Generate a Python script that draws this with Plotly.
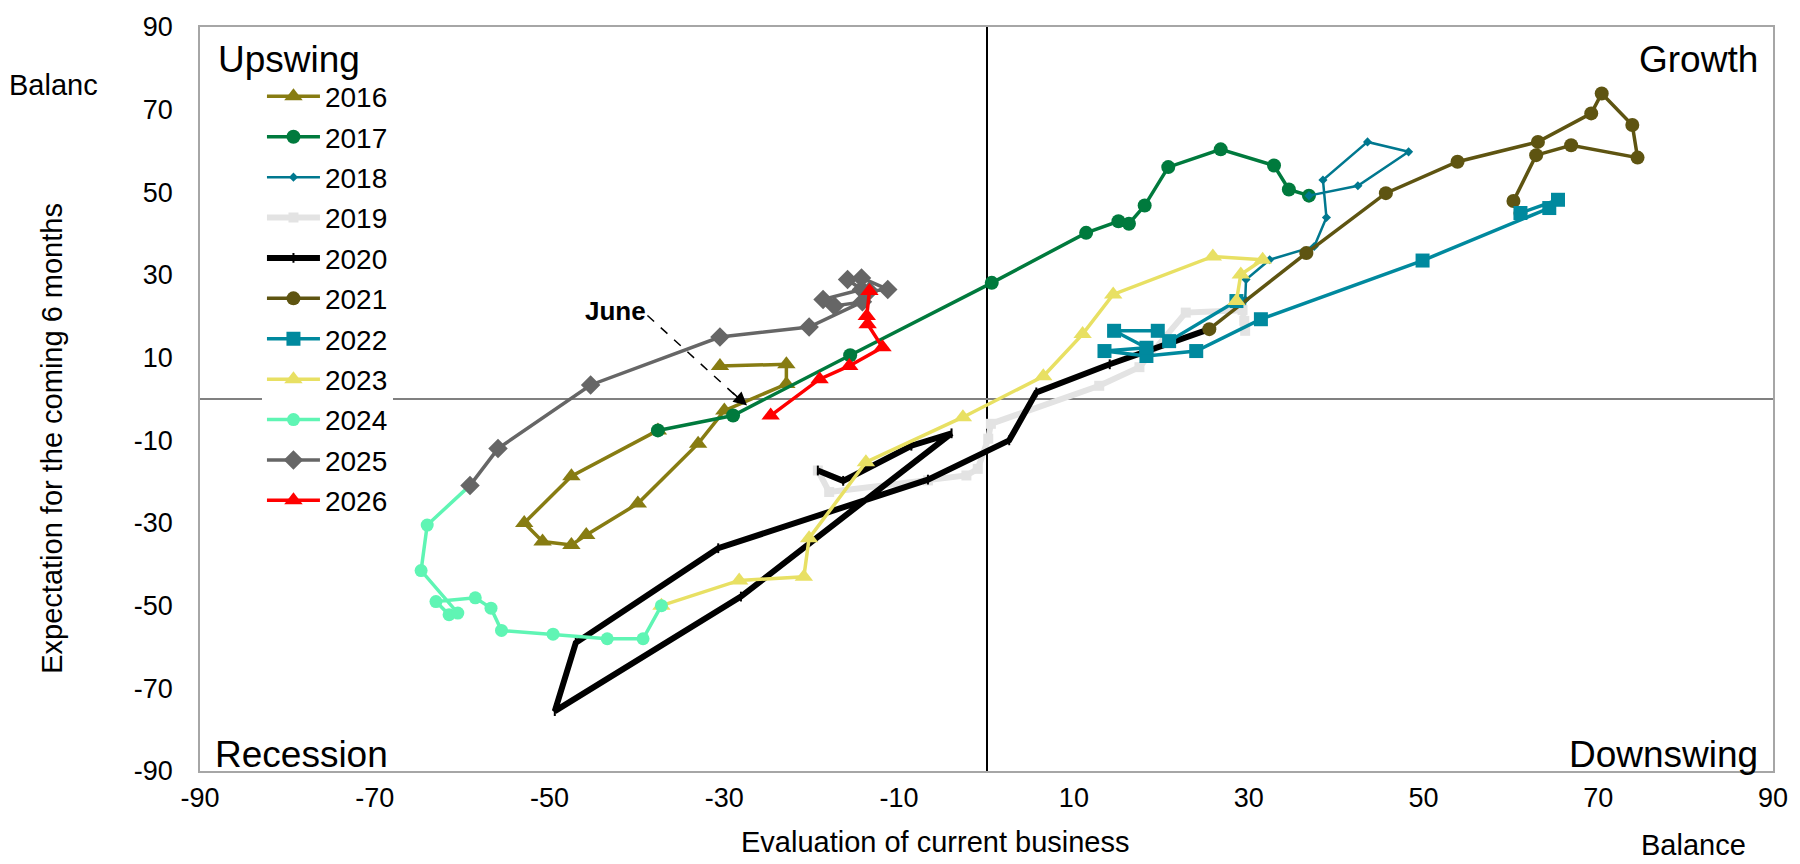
import plotly.graph_objects as go

# ---------------- data (balances) ----------------
years = ["2016", "2017", "2018", "2019", "2020", "2021", "2022", "2023", "2024", "2025", "2026"]

x_2016 = [-30.5, -22.9, -22.9, -30.0, -33.0, -39.9, -45.8, -47.5, -50.8, -52.9, -47.5, -37.6]
y_2016 = [8.0, 8.4, 3.6, -2.8, -10.8, -25.3, -32.9, -35.3, -34.5, -30.0, -18.7, -7.6]

x_2017 = [-37.6, -29.0, -15.6, 0.6, 11.4, 15.1, 16.3, 18.1, 20.8, 26.8, 32.9, 34.6, 36.9]
y_2017 = [-7.6, -4.0, 10.6, 28.1, 40.2, 43.0, 42.4, 46.8, 56.1, 60.4, 56.5, 50.7, 49.2]

x_2018 = [36.9, 42.5, 48.3, 43.6, 38.5, 38.9, 37.5, 32.4, 29.7, 29.6, 29.5]
y_2018 = [49.2, 51.6, 59.8, 62.2, 53.0, 43.9, 36.9, 33.7, 28.9, 24.0, 18.9]

x_2019 = [29.5, 29.6, 29.3, 22.8, 17.5, 12.9, 0.5, 0.2, -1.0, -2.3, -6.7, -18.0, -19.3]
y_2019 = [18.9, 16.5, 21.5, 20.9, 7.7, 3.2, -6.0, -9.6, -16.9, -18.5, -19.7, -22.5, -17.3]

x_2020 = [-19.3, -16.4, -8.6, -4.0, -28.1, -49.4, -47.0, -30.7, -6.7, 2.6, 5.7, 14.1, 25.5]
y_2020 = [-17.3, -19.8, -11.3, -8.3, -47.8, -75.5, -59.0, -36.1, -19.5, -10.0, 1.6, 8.4, 16.9]

x_2021 = [25.5, 36.6, 45.7, 53.9, 63.1, 69.2, 70.4, 73.9, 74.5, 66.9, 62.9, 60.3, 61.1]
y_2021 = [16.9, 35.3, 49.8, 57.4, 62.2, 69.1, 73.9, 66.3, 58.4, 61.4, 59.0, 47.9, 45.0]

x_2022 = [61.1, 65.4, 64.4, 49.9, 31.4, 24.0, 18.3, 13.5, 18.3, 14.6, 19.6, 20.9, 28.6]
y_2022 = [45.0, 48.2, 46.2, 33.5, 19.3, 11.6, 10.4, 11.6, 12.4, 16.5, 16.5, 14.0, 23.7]

x_2023 = [28.6, 29.1, 31.6, 25.9, 14.5, 11.0, 6.5, -2.7, -13.8, -20.3, -20.9, -28.3, -37.2]
y_2023 = [23.7, 30.1, 33.7, 34.5, 25.3, 15.7, 5.5, -4.4, -15.3, -33.7, -43.0, -43.9, -50.0]

x_2024 = [-37.2, -39.3, -43.4, -49.6, -55.5, -56.7, -58.5, -63.0, -61.5, -60.5, -64.7, -64.0, -59.1]
y_2024 = [-50.0, -58.0, -58.0, -56.9, -56.0, -50.6, -48.1, -49.0, -52.2, -51.8, -41.5, -30.5, -20.9]

x_2025 = [-59.1, -55.9, -45.3, -30.5, -20.3, -14.2, -17.4, -18.7, -14.3, -15.9, -14.3, -11.3, -13.4]
y_2025 = [-20.9, -12.0, 3.4, 15.0, 17.4, 23.5, 22.5, 24.1, 26.5, 28.9, 29.3, 26.5, 26.1]

x_2026 = [-13.4, -13.7, -13.6, -11.9, -15.7, -19.1, -24.7]
y_2026 = [26.1, 20.1, 18.1, 12.5, 8.0, 4.8, -4.0]

tick_vals = [-90, -70, -50, -30, -10, 10, 30, 50, 70, 90]
tick_text = ["-90", "-70", "-50", "-30", "-10", "10", "30", "50", "70", "90"]

# ---------------- styling ----------------
xs = [x_2016, x_2017, x_2018, x_2019, x_2020, x_2021, x_2022, x_2023, x_2024, x_2025, x_2026]
ys = [y_2016, y_2017, y_2018, y_2019, y_2020, y_2021, y_2022, y_2023, y_2024, y_2025, y_2026]
colors = ["#877C12", "#007A3D", "#00788F", "#E3E3E3", "#000000", "#5E5411",
          "#00899E", "#E8E063", "#5FF5B4", "#666666", "#FF0000"]
symbols = ["triangle-up", "circle", "diamond", "square", "line-ns-open", "circle",
           "square", "triangle-up", "circle", "diamond", "triangle-up"]
msizes = [16, 14, 7, 10, 7, 14, 14, 16, 13, 15, 16]
lwidths = [3.5, 3.5, 2.5, 6, 6, 3.5, 3.5, 3.5, 3.5, 3.5, 3.5]

FONT = "Liberation Sans, Arial, sans-serif"
L, T, PW, PH = 200, 21, 1574, 750   # plot area in pixels


def px(xp):
    return (xp - L) / PW


def py(yp):
    return (T + PH - yp) / PH


fig = go.Figure()
for i, yr in enumerate(years):
    marker = dict(symbol=symbols[i], size=msizes[i], color=colors[i])
    if symbols[i] == "line-ns-open":
        marker["line"] = dict(color=colors[i], width=2)
    fig.add_trace(go.Scatter(
        x=xs[i], y=ys[i], name=yr, mode="lines+markers",
        line=dict(color=colors[i], width=lwidths[i]),
        marker=marker, legendgroup=yr,
    ))

# dashed pointer for "June"
fig.add_shape(type="line", xref="x", yref="y", x0=-38.8, y0=20.2, x1=-28.8, y1=1.0,
              line=dict(color="black", width=1.5, dash="dash"))
fig.add_annotation(x=-27.4, y=-1.6, ax=-29.2, ay=1.8, xref="x", yref="y", axref="x", ayref="y",
                   text="", showarrow=True, arrowhead=2, arrowsize=1.8, arrowwidth=1.5,
                   arrowcolor="black")
fig.add_annotation(x=-42.4, y=21.4, xref="x", yref="y", text="<b>June</b>", showarrow=False,
                   font=dict(size=26, color="black", family=FONT))

# quadrant labels
qfont = dict(size=37, color="black", family=FONT)
fig.add_annotation(x=px(216), y=py(54), xref="paper", yref="paper", text="Upswing",
                   showarrow=False, xanchor="left", yanchor="middle", font=qfont)
fig.add_annotation(x=px(1761), y=py(54), xref="paper", yref="paper", text="Growth",
                   showarrow=False, xanchor="right", yanchor="middle", font=qfont)
fig.add_annotation(x=px(213), y=py(754), xref="paper", yref="paper", text="Recession",
                   showarrow=False, xanchor="left", yanchor="middle", font=qfont)
fig.add_annotation(x=px(1761), y=py(754), xref="paper", yref="paper", text="Downswing",
                   showarrow=False, xanchor="right", yanchor="middle", font=qfont)

# axis titles and unit labels
tfont = dict(size=29, color="black", family=FONT)
fig.add_annotation(x=px(936), y=py(843), xref="paper", yref="paper",
                   text="Evaluation of current business", showarrow=False,
                   xanchor="center", yanchor="middle", font=tfont)
fig.add_annotation(x=px(1694), y=py(846), xref="paper", yref="paper", text="Balance",
                   showarrow=False, xanchor="center", yanchor="middle", font=tfont)
fig.add_annotation(x=px(52), y=py(436), xref="paper", yref="paper",
                   text="Expectation for the coming 6 months", showarrow=False, textangle=-90,
                   xanchor="center", yanchor="middle", font=tfont)
fig.add_annotation(x=px(7), y=py(79), xref="paper", yref="paper", text="Balanc",
                   showarrow=False, xanchor="left", yanchor="middle", font=tfont)

axis_common = dict(range=[-90, 90], tickmode="array", tickvals=tick_vals, ticktext=tick_text,
                   showgrid=False, ticks="", showline=True, mirror=True, linecolor="#A6A6A6",
                   linewidth=1.5, tickfont=dict(size=27, color="black", family=FONT))

fig.update_layout(
    width=1800, height=864,
    margin=dict(l=L, r=1800 - L - PW, t=T, b=864 - T - PH),
    paper_bgcolor="white", plot_bgcolor="white",
    font=dict(family=FONT, color="black"),
    xaxis=dict(**axis_common, zeroline=True, zerolinecolor="black", zerolinewidth=2,
               ticklabelstandoff=2),
    yaxis=dict(**axis_common, zeroline=True, zerolinecolor="#808080", zerolinewidth=1.5,
               ticklabelstandoff=20),
    legend=dict(x=px(262), y=0.94, xanchor="left", yanchor="top", bgcolor="white",
                borderwidth=0, font=dict(size=28, color="black", family=FONT),
                tracegroupgap=1, itemwidth=53),
    showlegend=True,
)

fig.write_html("out.html", config={"displayModeBar": False},
               post_script="document.body.style.margin='0';document.body.style.overflow='hidden';")
